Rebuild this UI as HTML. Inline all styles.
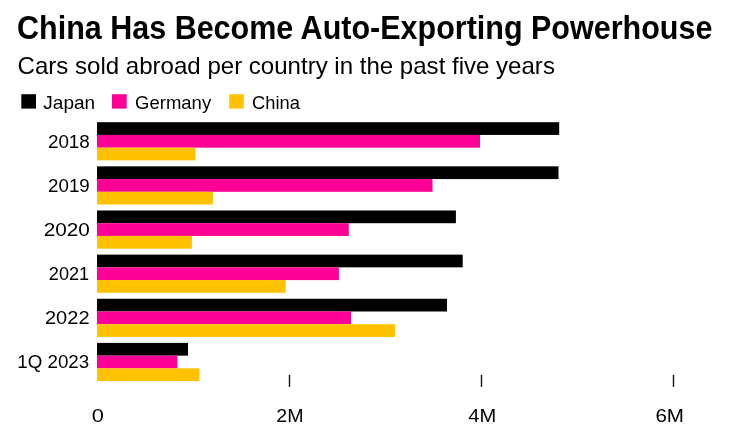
<!DOCTYPE html>
<html><head><meta charset="utf-8"><style>
html,body{margin:0;padding:0;background:#fff;width:730px;height:430px;overflow:hidden}
svg{display:block;will-change:transform}
text{font-family:"Liberation Sans",sans-serif;fill:#000}
.title{font-weight:bold;font-size:32.8px}
.sub{font-size:23.6px}
.leg{font-size:18.4px}
.lab{font-size:17.6px}
</style></head><body>
<svg width="730" height="430" viewBox="0 0 730 430">
<rect width="730" height="430" fill="#fff"/>
<rect x="97" y="122.20" width="462.20" height="12.73" fill="#000000"/>
<rect x="97" y="134.93" width="383.00" height="12.73" fill="#FF0096"/>
<rect x="97" y="147.66" width="98.50" height="12.73" fill="#FFC200"/>
<text x="47.93" y="147.7" class="lab" textLength="41.88" lengthAdjust="spacingAndGlyphs">2018</text>
<rect x="97" y="166.34" width="461.50" height="12.73" fill="#000000"/>
<rect x="97" y="179.07" width="335.50" height="12.73" fill="#FF0096"/>
<rect x="97" y="191.80" width="115.90" height="12.73" fill="#FFC200"/>
<text x="48.11" y="191.7" class="lab" textLength="41.62" lengthAdjust="spacingAndGlyphs">2019</text>
<rect x="97" y="210.48" width="358.90" height="12.73" fill="#000000"/>
<rect x="97" y="223.21" width="251.80" height="12.73" fill="#FF0096"/>
<rect x="97" y="235.94" width="94.90" height="12.73" fill="#FFC200"/>
<text x="43.78" y="235.7" class="lab" textLength="46.15" lengthAdjust="spacingAndGlyphs">2020</text>
<rect x="97" y="254.62" width="365.70" height="12.73" fill="#000000"/>
<rect x="97" y="267.35" width="241.90" height="12.73" fill="#FF0096"/>
<rect x="97" y="280.08" width="188.70" height="12.73" fill="#FFC200"/>
<text x="48.85" y="280.0" class="lab" textLength="40.23" lengthAdjust="spacingAndGlyphs">2021</text>
<rect x="97" y="298.76" width="350.00" height="12.73" fill="#000000"/>
<rect x="97" y="311.49" width="254.00" height="12.73" fill="#FF0096"/>
<rect x="97" y="324.22" width="298.00" height="12.73" fill="#FFC200"/>
<text x="44.99" y="324.0" class="lab" textLength="44.54" lengthAdjust="spacingAndGlyphs">2022</text>
<rect x="97" y="342.90" width="91.00" height="12.73" fill="#000000"/>
<rect x="97" y="355.63" width="80.40" height="12.73" fill="#FF0096"/>
<rect x="97" y="368.36" width="102.50" height="12.73" fill="#FFC200"/>
<text x="17.28" y="367.9" class="lab" textLength="71.9" lengthAdjust="spacingAndGlyphs">1Q 2023</text>
<rect x="288.8" y="374.8" width="1.4" height="12.1" fill="#111"/>
<rect x="480.8" y="374.8" width="1.4" height="12.1" fill="#111"/>
<rect x="672.8" y="374.8" width="1.4" height="12.1" fill="#111"/>
<text x="91.85" y="421.8" class="lab" textLength="12.16" lengthAdjust="spacingAndGlyphs">0</text>
<text x="276.31" y="421.8" class="lab" textLength="27.24" lengthAdjust="spacingAndGlyphs">2M</text>
<text x="468.31" y="421.8" class="lab" textLength="27.97" lengthAdjust="spacingAndGlyphs">4M</text>
<text x="655.45" y="421.8" class="lab" textLength="28.55" lengthAdjust="spacingAndGlyphs">6M</text>
<rect x="21.3" y="94.2" width="14.7" height="14.4" fill="#000000"/>
<rect x="112" y="94.2" width="14.7" height="14.4" fill="#FF0096"/>
<rect x="229.2" y="94.2" width="14.6" height="14.4" fill="#FFC200"/>
<text x="43.36" y="108.6" class="leg" textLength="51.78" lengthAdjust="spacingAndGlyphs">Japan</text>
<text x="135.06" y="108.6" class="leg" textLength="76.12" lengthAdjust="spacingAndGlyphs">Germany</text>
<text x="252.03" y="108.6" class="leg" textLength="47.83" lengthAdjust="spacingAndGlyphs">China</text>
<text x="17.03" y="39.0" class="title" textLength="695.33" lengthAdjust="spacingAndGlyphs">China Has Become Auto-Exporting Powerhouse</text>
<text x="17.63" y="73.6" class="sub" textLength="537.28" lengthAdjust="spacingAndGlyphs">Cars sold abroad per country in the past five years</text>
</svg>
</body></html>
